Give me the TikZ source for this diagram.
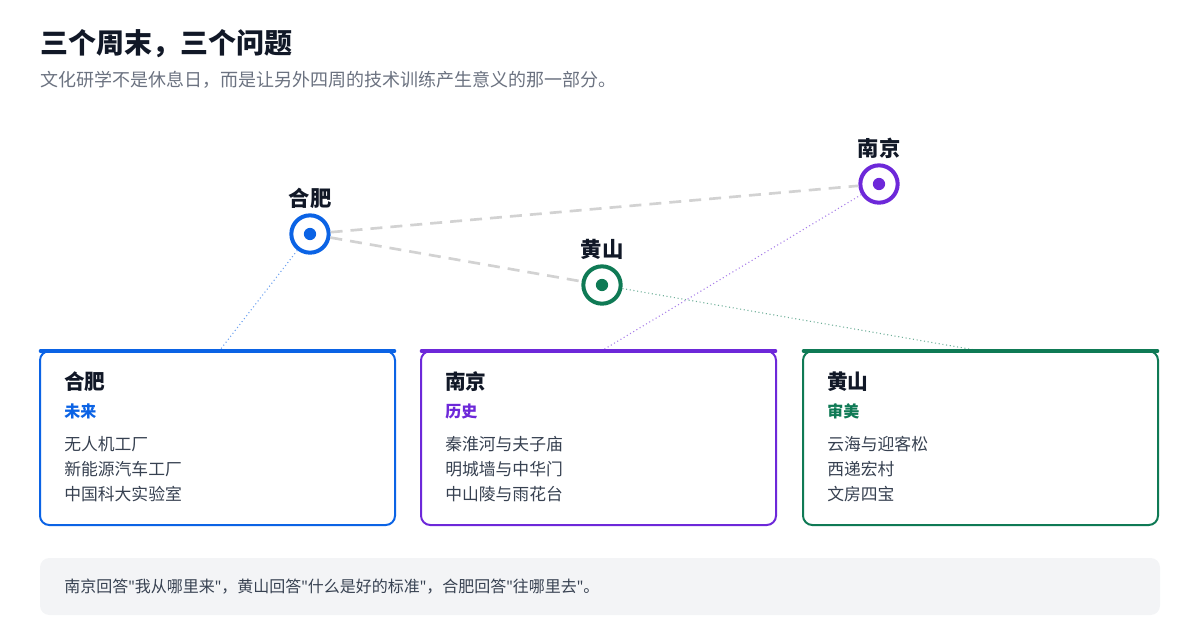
\documentclass[tikz,border=0pt]{standalone}
\usepackage{fontspec}
\setmainfont{Noto Sans CJK SC}
\newfontfamily\qfont{Noto Sans}
\newcommand{\sq}{{\qfont\symbol{34}}}
\begin{document}
\begin{tikzpicture}[x=0.75pt,y=-0.75pt,
  card/.style={draw=#1,line width=1.5pt,rounded corners=7pt,fill=white},
  ring/.style={circle,draw=#1,line width=3pt,fill=white,minimum size=28pt,inner sep=0pt},
  city/.style={font=\bfseries\fontsize{16}{18}\selectfont,text=ink},
  ctitle/.style={anchor=west,inner sep=0pt,font=\bfseries\fontsize{15.5}{17}\selectfont,text=ink},
  csub/.style={anchor=west,inner sep=0pt,font=\bfseries\fontsize{12}{14}\selectfont,text=#1},
  item/.style={anchor=west,inner sep=0pt,font=\fontsize{12.6}{14}\selectfont,text=body},
  link/.style={draw=gray!35,line width=2pt,dash pattern=on 9pt off 6pt},
  tie/.style={draw=#1!60,line width=0.8pt,dotted}]
\definecolor{ink}{HTML}{111827}
\definecolor{body}{HTML}{374151}
\definecolor{sub}{HTML}{6B7280}
\definecolor{cb}{HTML}{0B63E5}
\definecolor{cp}{HTML}{6D28D9}
\definecolor{cg}{HTML}{0F7A55}
\definecolor{note}{HTML}{F3F4F6}
\useasboundingbox (0,0) rectangle (1200,640);
\node[anchor=west,inner sep=0pt,font=\bfseries\fontsize{21}{24}\selectfont,text=ink] (t) at (40,44) {三个周末，三个问题};
\node[anchor=west,inner sep=0pt,font=\fontsize{13.5}{15}\selectfont,text=sub] (s) at (40,80) {文化研学不是休息日，而是让另外四周的技术训练产生意义的那一部分。};
\coordinate (a1) at (220,350);
\coordinate (a2) at (603,350);
\coordinate (a3) at (975,350);
\node[ring=cb] (hf) at (310,234) {};
\node[ring=cg] (hs) at (602,285) {};
\node[ring=cp] (nj) at (879,184) {};
\draw[link] (hf) -- (nj);
\draw[link] (hf) -- (hs);
\draw[tie=cb] (hf) -- (a1);
\draw[tie=cp] (nj) -- (a2);
\draw[tie=cg] (hs) -- (a3);
\foreach \n/\c in {hf/cb,hs/cg,nj/cp}{\fill[\c] (\n) circle (4.6pt);}
\node[city] (lhf) at (310,198) {合肥};
\node[city] (lhs) at (602,249) {黄山};
\node[city] (lnj) at (879,148) {南京};
\foreach \x/\c/\name/\tag/\i/\j/\k in {40/cb/合肥/未来/无人机工厂/新能源汽车工厂/中国科大实验室,421/cp/南京/历史/秦淮河与夫子庙/明城墙与中华门/中山陵与雨花台,803/cg/黄山/审美/云海与迎客松/西递宏村/文房四宝}{
  \draw[card=\c] (\x,351) rectangle ++(355,174);
  \draw[\c,line width=3.5pt,line cap=round] (\x+1,351) -- ++(353,0);
  \node[ctitle] at (\x+24,382) {\name};
  \node[csub=\c] at (\x+24,411) {\tag};
  \node[item] at (\x+24,444) {\i};
  \node[item] at (\x+24,469) {\j};
  \node[item] at (\x+24,494) {\k};
}
\fill[note,rounded corners=7pt] (40,558) rectangle (1160,615);
\node[anchor=west,inner sep=0pt,font=\fontsize{12}{14}\selectfont,text=body] (q) at (64,587) {南京回答\sq 我从哪里来\sq，黄山回答\sq 什么是好的标准\sq，合肥回答\sq 往哪里去\sq。};
\end{tikzpicture}
\end{document}
